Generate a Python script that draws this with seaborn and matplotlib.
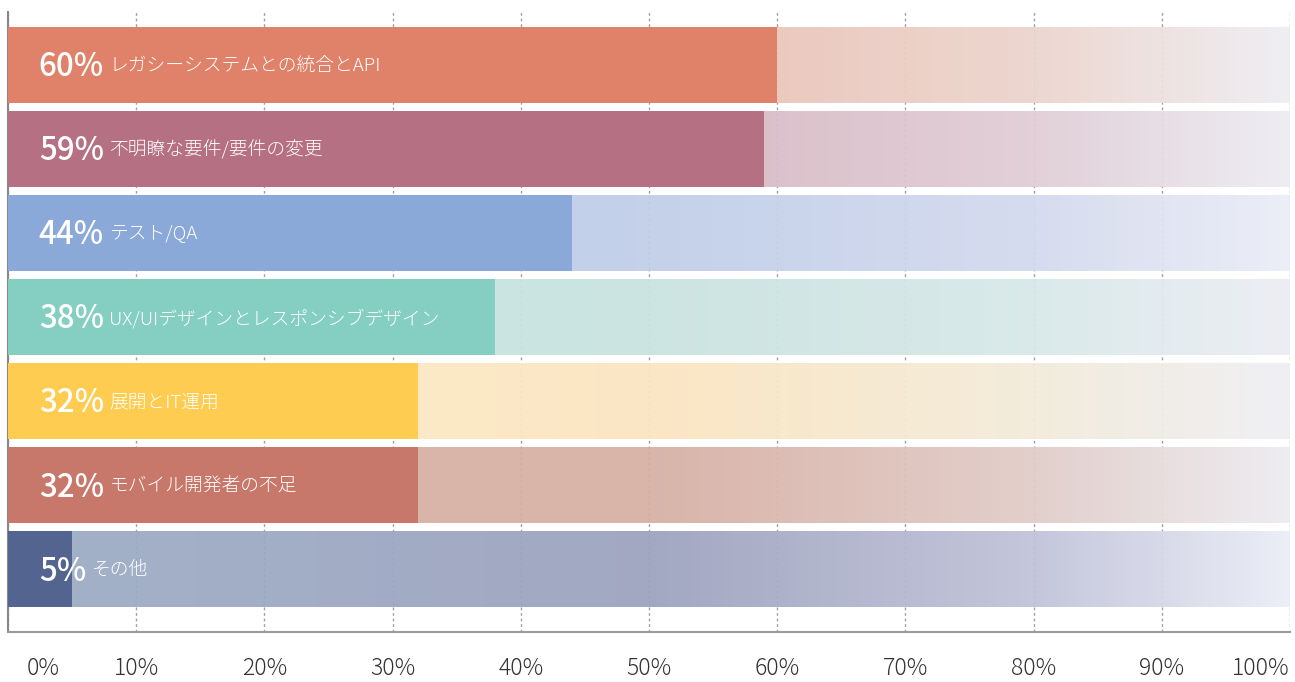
import numpy as np
import pandas as pd
import seaborn as sns
import matplotlib.pyplot as plt
from matplotlib.colors import to_rgb
from matplotlib.transforms import ScaledTranslation

# Survey results: share of respondents naming each challenge
categories = [
    "レガシーシステムとの統合とAPI",
    "不明瞭な要件/要件の変更",
    "テスト/QA",
    "UX/UIデザインとレスポンシブデザイン",
    "展開とIT運用",
    "モバイル開発者の不足",
    "その他",
]
values = [60, 59, 44, 38, 32, 32, 5]
bar_colors = ["#E0826A", "#B57083", "#8AA8D8", "#84CFC1", "#FFCC52", "#C8786A", "#52648F"]

# Track fill behind each bar: colour stops at 0%, 50%, 80% and 100% of the width
track_stops = [
    ["#E9BDAC", "#EBC3B6", "#EDD7D0", "#EFEEF3"],
    ["#D6B2BE", "#D9BAC5", "#E2D0D8", "#EEEDF3"],
    ["#C0CEEA", "#C4D1EA", "#D6DCEF", "#ECEEF8"],
    ["#C4E5DF", "#CCE5E2", "#DAEAEA", "#EDEEF5"],
    ["#FEEDC9", "#FBE7C4", "#F4ECDC", "#EFEFF4"],
    ["#D9B4AA", "#D9B4A9", "#E3CFCB", "#EEEDF2"],
    ["#A2B2C9", "#A2A8C2", "#C4C6DB", "#ECEEF8"],
]
stop_pos = [0.0, 0.5, 0.8, 1.0]

tick_values = list(range(0, 101, 10))
tick_labels = [f"{v}%" for v in tick_values]

sns.set_style("white")
plt.rcParams["font.family"] = ["Noto Sans CJK JP", "DejaVu Sans"]

fig = plt.figure(figsize=(12.95, 6.82), dpi=100)
ax = fig.add_axes([8 / 1295, 50 / 682, 1282 / 1295, 620 / 682])

df = pd.DataFrame({"category": categories, "value": values})
sns.barplot(data=df, x="value", y="category", hue="category", palette=bar_colors,
            orient="h", width=0.9, legend=False, ax=ax, saturation=1)
for p in ax.patches:
    p.set_zorder(3)
    p.set_edgecolor("none")

# Gradient tracks spanning the full 0-100% range
track_alpha = 0.94
xs = np.linspace(0, 1, 400)
for i, stops in enumerate(track_stops):
    rgb = np.array([to_rgb(c) for c in stops])
    grad = np.stack([np.interp(xs, stop_pos, rgb[:, k]) for k in range(3)], axis=-1)
    grad = np.clip((grad - (1 - track_alpha)) / track_alpha, 0, 1)
    ax.imshow(grad[np.newaxis, :, :], extent=(0, 100, i + 0.45, i - 0.45),
              aspect="auto", interpolation="bilinear", alpha=track_alpha, zorder=1)

ax.set_xlim(0, 100)
ax.set_ylim(6.75, -0.63)

# Dotted vertical grid
ax.set_axisbelow(True)
ax.xaxis.grid(True, color="#a0a0a0", linestyle=(0, (2, 2)), linewidth=1.0)
ax.yaxis.grid(False)

ax.set_xticks(tick_values)
ax.set_xticklabels(tick_labels, fontsize=16.5, color="#333333", fontweight="light")
ax.tick_params(axis="x", length=0, pad=17)
ax.set_yticks([])
ax.set_xlabel("")
ax.set_ylabel("")

xl = ax.get_xticklabels()
xl[0].set_transform(xl[0].get_transform() + ScaledTranslation(35 / 100, 0, fig.dpi_scale_trans))
xl[-1].set_horizontalalignment("right")

for side in ["top", "right"]:
    ax.spines[side].set_visible(False)
ax.spines["left"].set_color("#888888")
ax.spines["left"].set_linewidth(1.5)
ax.spines["bottom"].set_color("#9a9a9a")
ax.spines["bottom"].set_linewidth(1.5)

# Value and category labels inside each bar
for i, (cat, val) in enumerate(zip(categories, values)):
    pct = ax.text(0.024, i + 0.03, f"{val}%", transform=ax.get_yaxis_transform(),
                  ha="left", va="center", fontsize=22.5, fontweight="medium",
                  color="white", zorder=5)
    ax.annotate(cat, xy=(1, 0.5), xycoords=pct, xytext=(4, 1),
                textcoords="offset points", ha="left", va="center",
                fontsize=13.5, fontweight="light", color="white", zorder=5)

fig.savefig("out.png", dpi=100)
